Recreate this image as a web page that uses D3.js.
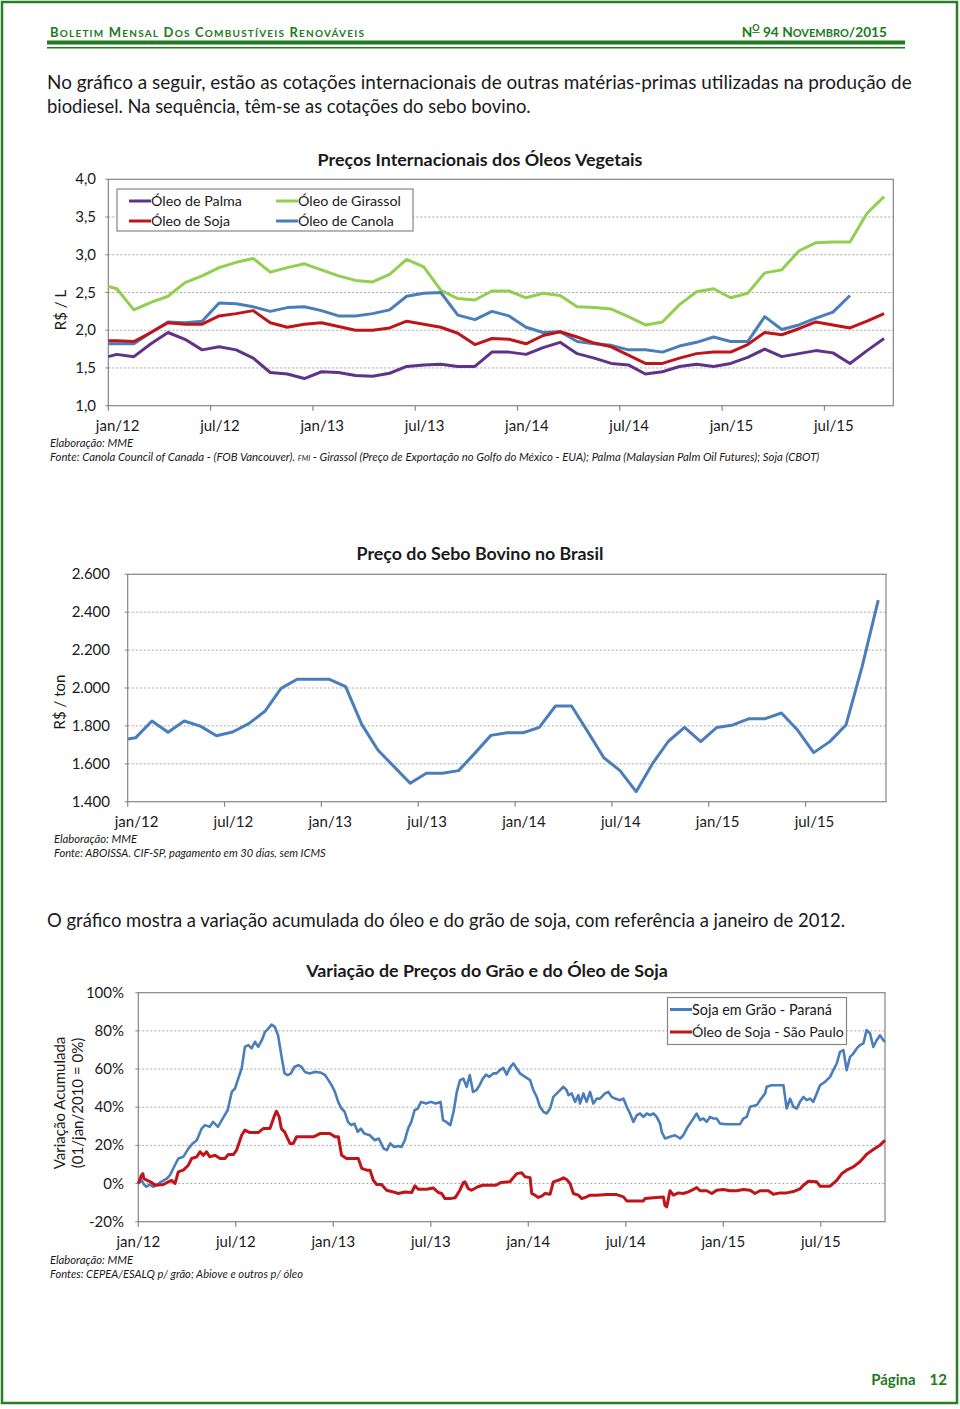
<!DOCTYPE html>
<html><head><meta charset="utf-8">
<script src="https://cdn.jsdelivr.net/npm/d3@7"></script>
<style>
body{margin:0;background:#fff}
svg{display:block}
text{font-family:Lato,"Open Sans",sans-serif;fill:#1a1a1a}
</style>
</head><body>
<svg id="page" width="960" height="1409"></svg>
<script>
// ---------- Chart 1: Preços Internacionais dos Óleos Vegetais (R$/L) ----------
const oilMonths = [0,0.5,1.5,2.5,3.5,4.5,5.5,6.5,7.5,8.5,9.5,10.5,11.5,12.5,13.5,14.5,15.5,16.5,17.5,18.5,19.5,20.5,21.5,22.5,23.5,24.5,25.5,26.5,27.5,28.5,29.5,30.5,31.5,32.5,33.5,34.5,35.5,36.5,37.5,38.5,39.5,40.5,41.5,42.5,43.5,44.5,45.5];
const palma    = [1.65,1.68,1.65,1.82,1.97,1.88,1.74,1.78,1.74,1.63,1.44,1.42,1.36,1.45,1.44,1.40,1.39,1.43,1.52,1.54,1.55,1.52,1.52,1.71,1.71,1.68,1.77,1.84,1.69,1.63,1.56,1.54,1.42,1.45,1.52,1.55,1.52,1.56,1.64,1.75,1.65,1.69,1.73,1.70,1.56,1.73,1.89];
const sojaOil  = [1.86,1.86,1.85,1.97,2.10,2.08,2.08,2.19,2.22,2.26,2.10,2.04,2.08,2.10,2.05,2.00,2.00,2.03,2.12,2.08,2.04,1.96,1.81,1.89,1.88,1.82,1.93,1.98,1.91,1.83,1.78,1.67,1.56,1.56,1.63,1.69,1.71,1.71,1.81,1.97,1.94,2.02,2.11,2.07,2.03,2.12,2.22];
const girassol = [2.58,2.55,2.27,2.37,2.45,2.63,2.72,2.83,2.90,2.95,2.77,2.83,2.88,2.80,2.72,2.66,2.64,2.74,2.94,2.84,2.53,2.42,2.40,2.52,2.52,2.43,2.49,2.46,2.31,2.30,2.28,2.18,2.07,2.11,2.34,2.51,2.55,2.43,2.49,2.76,2.80,3.05,3.16,3.17,3.17,3.55,3.77];
const canola   = [1.82,1.82,1.82,1.97,2.11,2.10,2.12,2.36,2.35,2.31,2.25,2.30,2.31,2.26,2.19,2.19,2.22,2.27,2.45,2.49,2.50,2.20,2.14,2.25,2.19,2.04,1.97,1.98,1.85,1.82,1.80,1.74,1.74,1.71,1.79,1.84,1.91,1.85,1.85,2.18,2.01,2.07,2.16,2.24,2.46,null,null];
const oilYTicks = [1.0,1.5,2.0,2.5,3.0,3.5,4.0];
const oilYLabels = ["1,0","1,5","2,0","2,5","3,0","3,5","4,0"];

// ---------- Chart 2: Preço do Sebo Bovino no Brasil (R$/ton) ----------
const seboMonths = [0,0.5,1.5,2.5,3.5,4.5,5.5,6.5,7.5,8.5,9.5,10.5,11.5,12.5,13.5,14.5,15.5,16.5,17.5,18.5,19.5,20.5,21.5,22.5,23.5,24.5,25.5,26.5,27.5,28.5,29.5,30.5,31.5,32.5,33.5,34.5,35.5,36.5,37.5,38.5,39.5,40.5,41.5,42.5,43.5,44.5,45.5,46.5];
const sebo = [1731,1738,1826,1766,1826,1799,1748,1768,1812,1877,1998,2046,2046,2046,2007,1808,1673,1585,1497,1550,1550,1564,1655,1750,1764,1764,1792,1905,1905,1770,1632,1564,1453,1599,1719,1792,1717,1792,1805,1838,1838,1868,1778,1659,1717,1805,2113,2464];
const seboYTicks = [1400,1600,1800,2000,2200,2400,2600];
const seboYLabels = ["1.400","1.600","1.800","2.000","2.200","2.400","2.600"];

// ---------- Chart 3: Variação de Preços do Grão e do Óleo de Soja (%) ----------
const graoMonths = [0,0.2,0.35,0.5,0.7,0.9,1.1,1.4,1.75,1.95,2.15,2.46,2.77,3.08,3.35,3.6,3.9,4.1,4.4,4.6,4.9,5.2,5.5,5.75,5.95,6.15,6.36,6.56,6.77,6.97,7.18,7.38,7.6,7.8,8.0,8.2,8.4,8.6,8.8,9.0,9.2,9.4,9.6,9.85,10.05,10.25,10.55,10.85,11.2,11.5,11.7,11.9,12.1,12.3,12.5,12.7,12.9,13.1,13.3,13.5,13.7,13.9,14.25,14.55,14.8,15.1,15.3,15.5,15.75,16.0,16.2,16.4,16.6,16.8,17.0,17.2,17.4,17.7,18.0,18.3,18.6,18.75,18.95,19.2,19.4,19.6,19.8,20.0,20.2,20.4,20.6,20.8,21.0,21.2,21.4,21.6,21.85,22.05,22.25,22.46,22.67,22.9,23.08,23.29,23.49,23.8,24.11,24.31,24.52,24.72,24.93,25.13,25.34,25.54,25.85,26.16,26.36,26.47,26.67,26.88,27.08,27.18,27.39,27.59,27.8,28.0,28.21,28.41,28.72,28.93,29.13,29.34,29.65,29.85,30.06,30.26,30.47,30.67,30.88,31.08,31.29,31.49,31.7,31.9,32.11,32.21,32.41,32.72,33.03,33.34,33.54,33.75,33.95,34.16,34.36,34.57,34.77,34.98,35.18,35.39,35.59,35.8,36.21,36.62,37.03,37.24,37.44,37.65,38.06,38.26,38.57,38.67,38.98,39.7,39.8,39.9,40.11,40.31,40.52,40.72,40.93,41.13,41.34,41.54,41.75,41.95,42.26,42.57,42.77,42.98,43.18,43.39,43.59,43.8,44.0,44.21,44.41,44.62,44.82,45.03,45.23,45.44,45.64,45.85,45.95];
const graoVar = [0,1.7,-0.5,-1.7,-0.5,-1.7,-0.9,0.9,2.6,4.4,7.9,13.1,14,18.3,21,22.7,28.8,30.6,29.7,32.3,29.7,34.1,38.4,48,49.8,55,60.3,71.6,72.5,70.8,74.3,71.6,75.1,79.5,81.2,83.3,82.1,77.7,67.3,57.7,56.8,57.7,61.1,62,61.1,58.5,57.7,58.5,58.2,56.8,54.2,51.5,48,42.8,39.3,37.6,32.3,30.6,31.4,27.1,28.8,26.2,25.3,22.7,23.6,18.3,17.5,21,19.2,19.7,19.2,22.7,28.8,32.3,38.4,39.3,42.8,41.9,42.8,41.9,42.8,33.2,32.3,30.6,37.6,48,54.2,55,50.7,56.8,48,48.9,51.5,55,57.1,55.9,57.7,57.7,59.4,60.6,57.1,61.1,62.9,60.3,57.7,55.9,54.2,48.9,45.4,40.2,37.6,36.7,39.3,45.4,48,50.7,48.9,46.3,47.2,42.8,46.3,41.9,47.2,42.8,48,41.9,44.5,44.5,47.2,48,45.4,44.5,43.7,44.5,40.2,36.7,32.3,35.8,36.7,34.9,36.7,35.8,36.7,34.9,31.4,27.1,23.6,24.5,25.3,23.6,25.3,28.8,31.4,34.1,36.7,33.2,34.1,32.3,34.9,34.1,34.1,31.4,31.1,31.1,31.1,34.1,34.9,40.2,41.1,43.7,47.2,50.7,51.5,51.5,45.4,39.3,44.5,40.2,39.3,42.8,45.4,43.7,44.5,42.8,47.2,51.5,53.3,55.9,59.4,62.9,69,69.9,59.4,66.4,68.1,70.8,72.5,73.4,80.4,78.6,71.6,75.1,77.7,75.1,74.2];
const oleoMonths = [0,0.2,0.28,0.34,0.55,0.75,1.05,1.54,1.85,2.05,2.26,2.46,2.77,3.08,3.28,3.59,3.8,4.0,4.2,4.4,4.72,5.03,5.33,5.54,5.85,6.05,6.36,6.56,6.87,7.38,7.69,8.1,8.35,8.5,8.67,8.8,9.0,9.33,9.54,9.74,10.15,10.77,11.18,11.79,12.1,12.31,12.51,12.82,13.23,13.54,13.75,14.05,14.26,14.46,14.67,14.97,15.28,15.69,16.0,16.41,16.82,17.02,17.23,17.74,18.15,18.46,18.67,18.87,19.18,19.49,19.79,20.0,20.1,20.3,20.5,20.9,21.2,22.0,22.3,22.87,23.29,23.59,23.8,24.11,24.21,24.41,24.62,24.83,25.03,25.34,25.54,25.85,26.16,26.36,26.57,26.77,27.08,27.29,27.59,27.8,28.21,28.82,29.44,29.85,30.06,30.67,31.08,31.18,31.9,32.31,32.41,32.52,32.72,32.93,33.24,33.54,33.85,34.16,34.36,34.57,34.98,35.29,35.59,36.0,36.41,36.82,37.24,37.65,37.95,38.26,38.77,39.08,39.49,39.9,40.31,40.72,40.93,41.24,41.75,41.95,42.57,42.98,43.29,43.59,44.0,44.41,44.82,45.23,45.64,45.95];
const oleoVar = [0,4.4,5.2,2.6,1.7,0.9,-0.9,-0.5,0.9,1.7,0,6.1,7,9.6,13.1,14,16.6,14.8,16.6,14,14.8,13.1,13.1,15.2,15.2,17.5,25.3,28,26.7,26.7,28.8,28.8,34.9,37.9,34.9,28.8,27.1,21,21,24.5,24.5,24.5,26.2,26.2,24.5,24.5,14.8,13.1,13.1,13.1,7.9,7,7,1.7,-0.5,-0.5,-3.5,-4.4,-5.2,-4.4,-4.7,-1.2,-3,-3,-2.3,-4.7,-5.2,-7.9,-7.9,-7.5,-3.5,0.5,0.9,-2.6,-3.5,-1.7,-0.9,-0.9,0.5,0.9,5.2,5.6,3.5,3.1,-5.2,-6.1,-7.3,-6.6,-5.2,-5.6,0.9,1.7,3.0,2.1,0,-5.2,-6.1,-7.9,-7.0,-6.1,-6.1,-5.8,-5.8,-7.0,-9.1,-9.1,-9.1,-7.9,-7.3,-7.0,-11.4,-12.2,-3.8,-6.1,-4.9,-5.2,-4.4,-3.1,-2.1,-3.8,-3.8,-5.2,-3.5,-3.1,-3.8,-3.8,-3.1,-3.5,-5.2,-3.8,-3.8,-5.6,-4.9,-4.9,-4.2,-2.8,-0.9,1.2,0.9,-1.4,-1.4,1.7,5.2,7.0,8.7,11.4,15.4,17.8,20.1,22.7];
const varYTicks = [-20,0,20,40,60,80,100];
const varYLabels = ["-20%","0%","20%","40%","60%","80%","100%"];

// shared x-axis categories (months since jan/2012)
const xTickMonths = [0,6,12,18,24,30,36,42];
const xTickLabels = ["jan/12","jul/12","jan/13","jul/13","jan/14","jul/14","jan/15","jul/15"];

// ---------- drawing ----------
const svg = d3.select('#page');
const GREEN = '#217a21';
svg.append('rect').attr('width',960).attr('height',1409).attr('fill','#fff');
svg.append('rect').attr('x',2).attr('y',2).attr('width',955).attr('height',1401)
  .attr('fill','none').attr('stroke','#2a7d2a').attr('stroke-width',2.5);

function fit(sel, target){
  const n = sel.node(); const w = n.getComputedTextLength();
  const fs = parseFloat(sel.attr('font-size'));
  if (w>0) sel.attr('font-size', (fs*target/w).toFixed(2));
  return sel;
}
function smallCaps(parent, x, y, words, big, small, anchor){
  const t = parent.append('text').attr('x',x).attr('y',y).attr('font-weight','bold')
    .style('fill',GREEN).attr('text-anchor',anchor||'start');
  words.forEach((w,i)=>{
    t.append('tspan').attr('font-size',big).text((i?' ':'')+w[0]);
    if (w.length>1) t.append('tspan').attr('font-size',small).text(w.slice(1).toUpperCase());
  });
  return t;
}
// header
const h1 = smallCaps(svg,50,37,["Boletim","Mensal","Dos","Combustíveis","Renováveis"],13,10);
h1.attr('letter-spacing',1.2);
fit(h1,358);
const h2 = svg.append('text').attr('x',887).attr('y',37).attr('text-anchor','end')
  .attr('font-weight','bold').style('fill',GREEN).attr('font-size',14);
h2.append('tspan').text('N');
h2.append('tspan').attr('font-size',9).attr('dy',-6).attr('text-decoration','underline').text('O');
h2.append('tspan').attr('dy',6).text(' 94 N');
h2.append('tspan').attr('font-size',11).text('OVEMBRO');
h2.append('tspan').text('/2015');
fit(h2,144);
svg.append('rect').attr('x',47).attr('y',40.5).attr('width',858).attr('height',4).attr('fill','#1f7a1f');
svg.append('rect').attr('x',47).attr('y',47).attr('width',858).attr('height',1.5).attr('fill','#1f7a1f');

// paragraphs
fit(svg.append('text').attr('x',47).attr('y',89).attr('font-size',17).text('No gráfico a seguir, estão as cotações internacionais de outras matérias-primas utilizadas na produção de'),865);
fit(svg.append('text').attr('x',47).attr('y',113).attr('font-size',17).text('biodiesel. Na sequência, têm-se as cotações do sebo bovino.'),484);
fit(svg.append('text').attr('x',47).attr('y',927).attr('font-size',17).text('O gráfico mostra a variação acumulada do óleo e do grão de soja, com referência a janeiro de 2012.'),799);

// footer
const pg = svg.append('text').attr('x',947).attr('y',1385).attr('text-anchor','end').attr('font-weight','bold')
  .style('fill',GREEN).attr('font-size',15);
pg.append('tspan').text('Página');
pg.append('tspan').attr('dx',14).text('12');

function frame(x, y, yTicks, yLabels, labelX, labelOffset, fontSize){
  const [x0,x1] = x.range(), [yb,yt] = y.range();
  const g = svg.append('g');
  g.selectAll('line.grid').data(yTicks.slice(1,-1)).join('line')
    .attr('x1',x0).attr('x2',x1).attr('y1',d=>y(d)).attr('y2',d=>y(d))
    .attr('stroke','#a6a6a6').attr('stroke-width',1).attr('stroke-dasharray','2,2');
  g.append('rect').attr('x',x0).attr('y',yt).attr('width',x1-x0).attr('height',yb-yt)
    .attr('fill','none').attr('stroke','#868686').attr('stroke-width',1.2);
  g.selectAll('line.xt').data(xTickMonths).join('line')
    .attr('x1',d=>x(d)).attr('x2',d=>x(d)).attr('y1',yb).attr('y2',yb+5)
    .attr('stroke','#868686').attr('stroke-width',1.2);
  g.selectAll('line.yt').data(yTicks).join('line')
    .attr('x1',x0-3).attr('x2',x0).attr('y1',d=>y(d)).attr('y2',d=>y(d))
    .attr('stroke','#868686').attr('stroke-width',1);
  g.selectAll('text.yl').data(yTicks).join('text')
    .attr('x',labelX).attr('y',d=>y(d)+5).attr('text-anchor','end').attr('font-size',fontSize)
    .text((d,i)=>yLabels[i]);
  g.selectAll('text.xl').data(xTickMonths).join('text')
    .attr('x',d=>x(d+labelOffset)).attr('y',yb+25).attr('text-anchor','middle').attr('font-size',fontSize)
    .text((d,i)=>xTickLabels[i]);
  return g;
}
function series(x,y,months,vals,color,w){
  const line = d3.line().defined(d=>d[1]!=null).x(d=>x(d[0])).y(d=>y(d[1]));
  svg.append('path').datum(months.map((m,i)=>[m,vals[i]]))
    .attr('d',line).attr('fill','none').attr('stroke',color).attr('stroke-width',w)
    .attr('stroke-linejoin','round').attr('stroke-linecap','butt');
}
function title(x,y,txt,w){
  fit(svg.append('text').attr('x',x).attr('y',y).attr('text-anchor','middle').attr('font-weight','bold')
    .attr('font-size',17).text(txt),w);
}
function note(x,y,txt,w,size){
  const t = svg.append('text').attr('x',x).attr('y',y).attr('font-style','italic').attr('font-size',size||10).text(txt);
  if (w) fit(t,w);
  return t;
}
function legendEntry(lx,ly,txt,color,w){
  svg.append('line').attr('x1',lx).attr('x2',lx+22).attr('y1',ly).attr('y2',ly).attr('stroke',color).attr('stroke-width',3);
  fit(svg.append('text').attr('x',lx+22).attr('y',ly+5).attr('font-size',14.5).text(txt),w);
}

// ---- chart 1
const C = {palma:'#5f3387',girassol:'#92cf50',soja:'#c0141b',canola:'#4a7ebb'};
const x1 = d3.scaleLinear().domain([0,46.04]).range([108.3,893.3]);
const y1 = d3.scaleLinear().domain([1,4]).range([405.7,179.3]);
frame(x1,y1,oilYTicks,oilYLabels,96,0.55,15);
title(480,166,'Preços Internacionais dos Óleos Vegetais',325);
svg.append('text').attr('transform','translate(66,310) rotate(-90)').attr('text-anchor','middle')
  .attr('font-size',15).text('R$ / L');
series(x1,y1,oilMonths,girassol,C.girassol,3);
series(x1,y1,oilMonths,canola,C.canola,3);
series(x1,y1,oilMonths,sojaOil,C.soja,3);
series(x1,y1,oilMonths,palma,C.palma,3);
svg.append('rect').attr('x',117).attr('y',189).attr('width',296).attr('height',42)
  .attr('fill','#fff').attr('stroke','#868686').attr('stroke-width',1.2);
legendEntry(129,201,'Óleo de Palma',C.palma,91);
legendEntry(276,201,'Óleo de Girassol',C.girassol,103);
legendEntry(129,221,'Óleo de Soja',C.soja,79);
legendEntry(276,221,'Óleo de Canola',C.canola,96);
note(50,447,'Elaboração: MME',83,10);
const f1 = svg.append('text').attr('x',50).attr('y',461).attr('font-style','italic').attr('font-size',10);
f1.append('tspan').text('Fonte: Canola Council  of Canada  - (FOB Vancouver). ');
f1.append('tspan').attr('font-size',7.5).text('FMI');
f1.append('tspan').text(' - Girassol (Preço de Exportação no Golfo do México - EUA); Palma (Malaysian Palm Oil Futures); Soja (CBOT)');
fit(f1,772);

// ---- chart 2
const x2 = d3.scaleLinear().domain([0,46.98]).range([127.7,886]);
const y2 = d3.scaleLinear().domain([1400,2600]).range([801.7,574.3]);
frame(x2,y2,seboYTicks,seboYLabels,110,0.55,15);
title(480,560,'Preço do Sebo Bovino no Brasil',247);
svg.append('text').attr('transform','translate(65,702) rotate(-90)').attr('text-anchor','middle')
  .attr('font-size',15).text('R$ / ton');
series(x2,y2,seboMonths,sebo,C.canola,3);
note(54,843,'Elaboração: MME',83,10);
note(54,857,'Fonte: ABOISSA. CIF-SP, pagamento em 30 dias, sem ICMS',272,10);

// ---- chart 3
const x3 = d3.scaleLinear().domain([0,45.95]).range([138.3,885]);
const y3 = d3.scaleLinear().domain([-20,100]).range([1221.7,992.7]);
frame(x3,y3,varYTicks,varYLabels,124,0,15);
title(487,977,'Variação de Preços do Grão e do Óleo de Soja',362);
svg.append('text').attr('transform','translate(65,1103) rotate(-90)').attr('text-anchor','middle')
  .attr('font-size',15).text('Variação Acumulada');
svg.append('text').attr('transform','translate(83,1103) rotate(-90)').attr('text-anchor','middle')
  .attr('font-size',15).text('(01/jan/2010 = 0%)');
series(x3,y3,graoMonths,graoVar,C.canola,2.6);
series(x3,y3,oleoMonths,oleoVar,C.soja,3);
svg.append('rect').attr('x',667.5).attr('y',997.5).attr('width',179).attr('height',47)
  .attr('fill','#fff').attr('stroke','#868686').attr('stroke-width',1.2);
legendEntry(670,1009.5,'Soja em Grão - Paraná',C.canola,140);
legendEntry(670,1032,'Óleo de Soja - São Paulo',C.soja,152);
note(50,1264,'Elaboração: MME',83,10);
note(50,1278,'Fontes: CEPEA/ESALQ p/ grão; Abiove e outros p/ óleo',253,10);
</script>
</body></html>
